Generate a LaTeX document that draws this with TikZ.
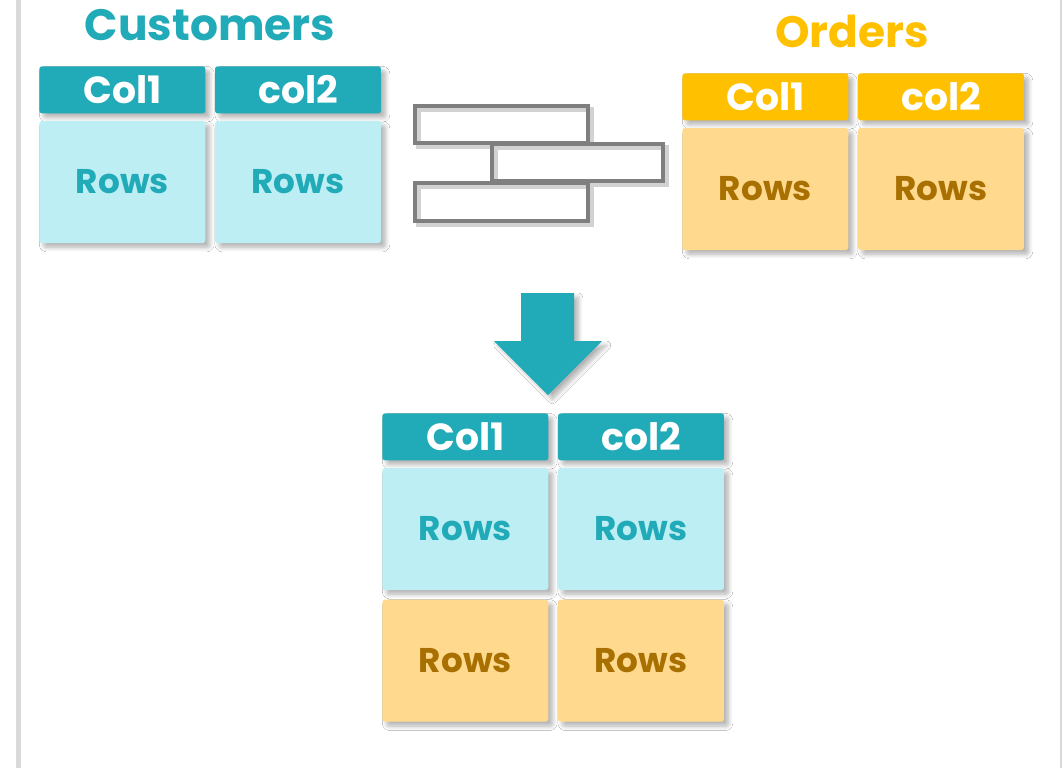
\documentclass[tikz,border=0pt]{standalone}
\usepackage{fontspec}
\setmainfont{Poppins}
\usepackage{xcolor}
\usepackage{tikz}
\usetikzlibrary{positioning,shadows.blur}
\definecolor{custcolor}{RGB}{33, 170, 183}
\definecolor{custlight}{RGB}{189, 238, 243}
\definecolor{ordcolor}{RGB}{255, 192, 0}
\definecolor{ordlight}{RGB}{255, 217, 142}
\definecolor{ordtext}{RGB}{168, 112, 0}
\definecolor{unioncolor}{RGB}{127, 127, 127}
\definecolor{framecolor}{RGB}{217, 217, 217}

\begin{document}
\begin{tikzpicture}[
    x=0.02cm, y=-0.02cm,
    softshadow/.style={blur shadow={shadow xshift=2.5pt, shadow yshift=-2.5pt, shadow blur radius=2.5pt, shadow blur steps=8, shadow opacity=30}},
    title/.style={font=\fontsize{25}{26}\selectfont\bfseries, inner sep=0pt},
    colhead/.style={softshadow, minimum width=3.32cm, minimum height=0.94cm, inner sep=0pt,
        rounded corners=1.5pt, text=white, font=\fontsize{21.5}{24}\selectfont\bfseries},
    rowbox/.style={softshadow, minimum width=3.32cm, minimum height=2.44cm, inner sep=0pt,
        rounded corners=1.5pt, font=\fontsize{19.5}{22}\selectfont\bfseries},
    custhead/.style={colhead, fill=custcolor},
    ordhead/.style={colhead, fill=ordcolor},
    custrows/.style={rowbox, fill=custlight, text=custcolor},
    ordrows/.style={rowbox, fill=ordlight, text=ordtext},
    unionbar/.style={draw=unioncolor, line width=2.3pt},
    unionshade/.style={draw=unioncolor!35, line width=3pt, xshift=2pt, yshift=-2pt},
    node distance=0.14cm and 0.18cm
]
    \useasboundingbox (0,0) rectangle (1063,768);
    \fill[white] (0,0) rectangle (1063,768);

    % Frame
    \fill[framecolor] (16,0) rectangle (21,768);
    \fill[framecolor] (1060,0) rectangle (1062,768);

    % Customers
    \node[title, text=custcolor] (custtitle) at (210,25) {Customers};
    \node[custhead, anchor=north west] (cust1) at (39,66) {Col1};
    \node[custhead, right=of cust1] (cust2) {col2};
    \node[custrows, below=of cust1] (custrow1) {Rows};
    \node[custrows, below=of cust2] (custrow2) {Rows};

    % Orders
    \node[title, text=ordcolor] (ordtitle) at (852,31) {Orders};
    \node[ordhead, anchor=north west] (ord1) at (682,73) {Col1};
    \node[ordhead, right=of ord1] (ord2) {col2};
    \node[ordrows, below=of ord1] (ordrow1) {Rows};
    \node[ordrows, below=of ord2] (ordrow2) {Rows};

    % Union icon
    \draw[unionshade] (415,106) rectangle (588,143);
    \draw[unionshade] (492,144) rectangle (663,181);
    \draw[unionshade] (415,183) rectangle (588,221);
    \draw[unionbar] (415,106) rectangle (588,143);
    \draw[unionbar] (492,144) rectangle (663,181);
    \draw[unionbar] (415,183) rectangle (588,221);

    % Arrow
    \fill[custcolor, softshadow] (521,293) -- (574,293) -- (574,341) -- (602,341)
        -- (548,395) -- (494,341) -- (521,341) -- cycle;

    % Result
    \node[custhead, anchor=north west] (res1) at (382,413) {Col1};
    \node[custhead, right=of res1] (res2) {col2};
    \node[custrows, below=of res1] (resrow1) {Rows};
    \node[custrows, below=of res2] (resrow2) {Rows};
    \node[ordrows, below=0.18cm of resrow1] (resrow3) {Rows};
    \node[ordrows, below=0.18cm of resrow2] (resrow4) {Rows};
\end{tikzpicture}
\end{document}
